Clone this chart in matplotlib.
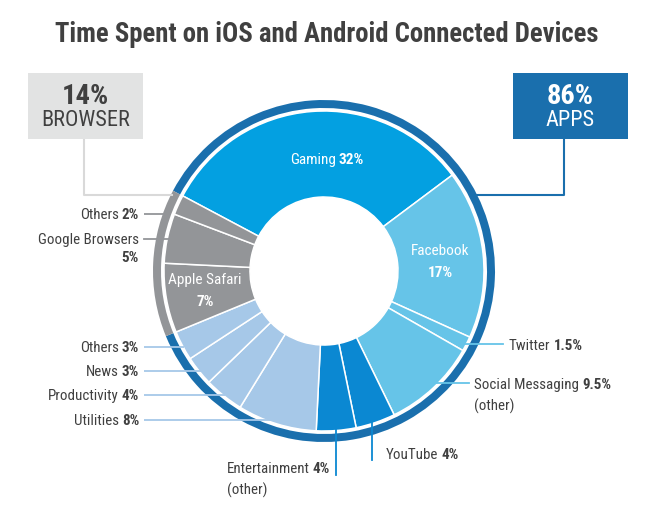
import numpy as np
import matplotlib
matplotlib.use('Agg')
import matplotlib.pyplot as plt
from matplotlib import font_manager
from matplotlib.patches import Rectangle

# pick a narrow font if one is installed
names = set(f.name for f in font_manager.fontManager.ttflist)
narrow = None
for cand in ['Roboto Condensed', 'Liberation Sans Narrow', 'Open Sans Condensed',
             'DejaVu Sans Condensed']:
    if cand in names:
        narrow = cand
        break
scale = 1.0
if narrow is None:
    narrow = 'Roboto' if 'Roboto' in names else 'DejaVu Sans'
    scale = 0.85
plt.rcParams['font.family'] = [narrow, 'DejaVu Sans']

# data (clockwise from the top-left)
labels = ['Gaming', 'Facebook', 'Twitter', 'Social Messaging', 'YouTube',
          'Entertainment', 'Utilities', 'Productivity', 'News', 'Others',
          'Apple Safari', 'Google Browsers', 'Others']
values = [32, 17, 1.5, 9.5, 4, 4, 8, 4, 3, 3, 7, 5, 2]
groups = ['APPS', 'BROWSER']
group_values = [86, 14]

c_game = '#03a0e1'
c_social = '#66c4e8'
c_video = '#0b88d2'
c_util = '#a6c8e8'
c_brow = '#939598'
c_apps = '#1a6fad'
colors = [c_game, c_social, c_social, c_social, c_video, c_video,
          c_util, c_util, c_util, c_util, c_brow, c_brow, c_brow]
dark = '#404040'
fs = 10.8 * scale

fig = plt.figure(figsize=(6.53, 5.10), dpi=100)
ax = fig.add_axes([0, 0, 1, 1])

H = 510
cx, cy = 324, H - 272
R = 160
start = 152

# main donut
wedges, _ = ax.pie(values, colors=colors, startangle=start, counterclock=False,
                   radius=R, center=(cx, cy), frame=True,
                   wedgeprops=dict(width=86, edgecolor='white', linewidth=1.1))
# outer ring apps / browser
ax.pie(group_values, colors=[c_apps, c_brow], startangle=start, counterclock=False,
       radius=171, center=(cx, cy), frame=True,
       wedgeprops=dict(width=8, edgecolor='none'))
ax.set_xlim(0, 653)
ax.set_ylim(0, 510)
ax.set_aspect('equal')
ax.axis('off')

fig.canvas.draw()
rend = fig.canvas.get_renderer()
inv = ax.transData.inverted()


def pct(v):
    return ('%g' % v) + '%'


def mid_point(i, r=R):
    w = wedges[i]
    a = np.deg2rad((w.theta1 + w.theta2) / 2)
    return cx + r * np.cos(a), cy + r * np.sin(a)


def two_part(x, y, name, p, ha='right', color=dark, size=fs):
    # regular name followed by a bold percentage
    if ha == 'right':
        t = ax.text(x, y, p, ha='right', va='center', fontsize=size,
                    color=color, fontweight='bold')
        x0 = inv.transform(t.get_window_extent(rend))[0][0]
        ax.text(x0 - 3, y, name, ha='right', va='center', fontsize=size, color=color)
    elif ha == 'left':
        t = ax.text(x, y, name, ha='left', va='center', fontsize=size, color=color)
        x1 = inv.transform(t.get_window_extent(rend))[1][0]
        ax.text(x1 + 3, y, p, ha='left', va='center', fontsize=size,
                color=color, fontweight='bold')
    else:
        t1 = ax.text(0, 0, name, fontsize=size)
        t2 = ax.text(0, 0, p, fontsize=size, fontweight='bold')
        w1 = t1.get_window_extent(rend).width
        w2 = t2.get_window_extent(rend).width
        t1.remove()
        t2.remove()
        x0 = x - (w1 + w2 + 3) / 2
        ax.text(x0, y, name, ha='left', va='center', fontsize=size, color=color)
        ax.text(x0 + w1 + 3, y, p, ha='left', va='center', fontsize=size,
                color=color, fontweight='bold')


# title
ax.text(327, H - 35, 'Time Spent on iOS and Android Connected Devices',
        ha='center', va='center', fontsize=19.3 * scale, fontweight='bold', color=dark)

# text inside slices
fin = 11 * scale
two_part(327, H - 160, labels[0], pct(values[0]), ha='center', color='white', size=fin)
ax.text(440, H - 251, labels[1], ha='center', va='center', fontsize=fin, color='white')
ax.text(440, H - 273, pct(values[1]), ha='center', va='center', fontsize=fin,
        color='white', fontweight='bold')
ax.text(205, H - 280, labels[10], ha='center', va='center', fontsize=fin, color='white')
ax.text(205, H - 302, pct(values[10]), ha='center', va='center', fontsize=fin,
        color='white', fontweight='bold')

# left side labels: slice index, label y (pixels from top), line colour
left = [(12, 215, c_brow), (9, 348, c_util), (8, 372, c_util),
        (7, 396, c_util), (6, 421, c_util)]
for i, ly, lc in left:
    mx, my = mid_point(i, 158)
    if i == 12:
        mx = 168
    ax.plot([144, mx], [H - ly, H - ly], color=lc, lw=1.3, zorder=5,
            solid_capstyle='butt')
    two_part(139, H - ly, labels[i], pct(values[i]))

# Google Browsers on two lines
mx, my = mid_point(11, 158)
ax.plot([144, mx], [H - 240, H - 240], color=c_brow, lw=1.3, zorder=5)
ax.text(139, H - 240, labels[11], ha='right', va='center', fontsize=fs, color=dark)
ax.text(139, H - 258, pct(values[11]), ha='right', va='center', fontsize=fs,
        color=dark, fontweight='bold')

# right side labels
mx, my = mid_point(2, 158)
ax.plot([mx, 503], [H - 345, H - 345], color=c_social, lw=1.3, zorder=5)
two_part(509, H - 346, labels[2], pct(values[2]), ha='left')

mx, my = mid_point(3, 150)
ax.plot([mx, 469], [H - 384, H - 384], color=c_social, lw=1.3, zorder=5)
two_part(474, H - 385, labels[3], pct(values[3]), ha='left')
ax.text(474, H - 406, '(other)', ha='left', va='center', fontsize=fs, color=dark)

# bottom labels with vertical leaders
mx, my = mid_point(4, 150)
ax.plot([mx, mx], [my, H - 461], color=c_video, lw=1.3, zorder=5)
two_part(386, H - 455, labels[4], pct(values[4]), ha='left')

mx, my = mid_point(5, 150)
ax.plot([mx, mx], [my, H - 476], color=c_video, lw=1.3, zorder=5)
two_part(227, H - 469, labels[5], pct(values[5]), ha='left')
ax.text(227, H - 490, '(other)', ha='left', va='center', fontsize=fs, color=dark)

# summary boxes
ax.add_patch(Rectangle((28, H - 140), 115, 66, facecolor='#e2e3e3',
                       edgecolor='none', zorder=6))
ax.text(85.5, H - 97, pct(group_values[1]), ha='center', va='center',
        fontsize=20.5 * scale, fontweight='bold', color=dark, zorder=7)
ax.text(85.5, H - 121, groups[1], ha='center', va='center',
        fontsize=16 * scale, color=dark, zorder=7)
ax.plot([84, 84, 172], [H - 140, H - 196, H - 196], color='#d9d9d9', lw=1.5, zorder=1)

ax.add_patch(Rectangle((513, H - 140), 115, 66, facecolor=c_apps,
                       edgecolor='none', zorder=6))
ax.text(570.5, H - 97, pct(group_values[0]), ha='center', va='center',
        fontsize=20.5 * scale, fontweight='bold', color='white', zorder=7)
ax.text(570.5, H - 121, groups[0], ha='center', va='center',
        fontsize=16 * scale, color='white', zorder=7)
ax.plot([564, 564, 477], [H - 140, H - 196, H - 196], color=c_apps, lw=1.5, zorder=1)

plt.savefig('out.png', dpi=100)
